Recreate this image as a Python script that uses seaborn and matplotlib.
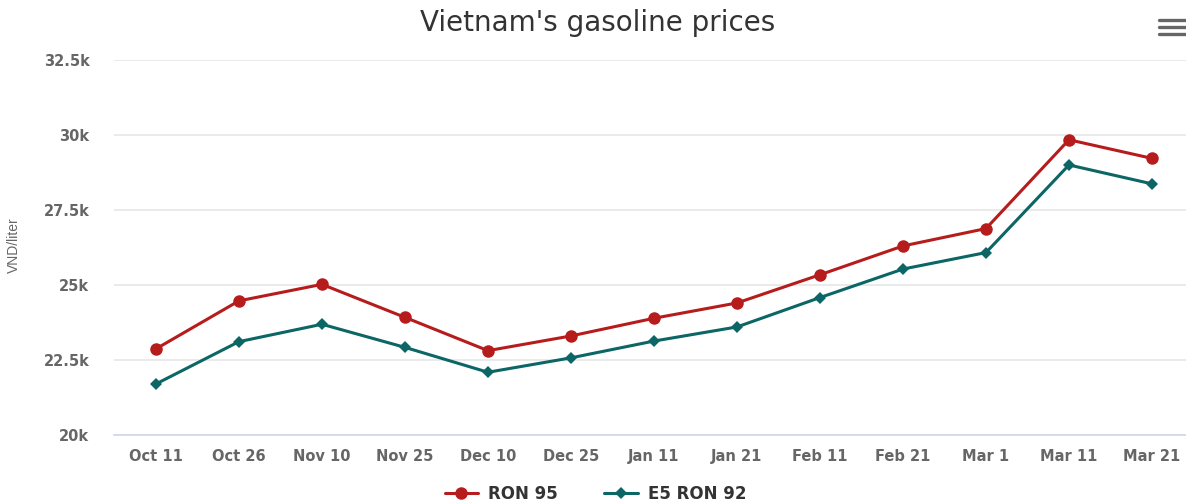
import matplotlib
matplotlib.use("Agg")
import matplotlib.pyplot as plt
import seaborn as sns
import pandas as pd
from matplotlib.ticker import FuncFormatter
from matplotlib.lines import Line2D

dates = ["Oct 11", "Oct 26", "Nov 10", "Nov 25", "Dec 10", "Dec 25", "Jan 11",
         "Jan 21", "Feb 11", "Feb 21", "Mar 1", "Mar 11", "Mar 21"]
ron95 = [22870, 24470, 25020, 23920, 22810, 23300, 23890,
         24400, 25340, 26300, 26880, 29840, 29220]
e5ron92 = [21700, 23110, 23690, 22920, 22090, 22570, 23130,
           23600, 24580, 25530, 26080, 29000, 28370]
series_names = ["RON 95", "E5 RON 92"]
colors = ["#b71c1c", "#0b6665"]
y_ticks = [20000, 22500, 25000, 27500, 30000, 32500]

df = pd.DataFrame({
    "date": dates * 2,
    "price": ron95 + e5ron92,
    "series": [series_names[0]] * len(dates) + [series_names[1]] * len(dates),
})
df["x"] = list(range(len(dates))) * 2

sns.set_theme(style="white")
plt.rcParams["font.family"] = ["DejaVu Sans"]

fig = plt.figure(figsize=(11.86, 5.04), dpi=100)
ax = fig.add_axes([0.0965, 0.137, 0.9098, 0.744])

sns.lineplot(data=df, x="x", y="price", hue="series", style="series",
             markers={"RON 95": "o", "E5 RON 92": "D"},
             dashes=False, palette=dict(zip(series_names, colors)),
             linewidth=2.2, markeredgewidth=0, legend=False, ax=ax,
             sort=False)
for line, ms in zip(ax.get_lines(), [9, 6]):
    line.set_markersize(ms)

ax.set_xlim(-0.5, len(dates) - 0.5)
ax.set_ylim(20000, 32500)
ax.set_yticks(y_ticks)
ax.yaxis.set_major_formatter(FuncFormatter(lambda v, p: f"{v/1000:g}k"))
ax.set_xticks(range(len(dates)))
ax.set_xticklabels(dates)
ax.tick_params(axis="both", length=0, labelsize=10.5, labelcolor="#666666")
ax.tick_params(axis="x", pad=10)
ax.tick_params(axis="y", pad=18)
for lab in ax.get_xticklabels() + ax.get_yticklabels():
    lab.set_fontweight("bold")
ax.grid(axis="y", color="#e6e6e6", linewidth=1.2)
ax.set_axisbelow(True)
for s in ["top", "right", "left"]:
    ax.spines[s].set_visible(False)
ax.spines["bottom"].set_color("#ccd6eb")
ax.spines["bottom"].set_linewidth(1.2)

ax.set_xlabel("")
ax.set_ylabel("VND/liter", fontsize=10, color="#666666",
              family=["Liberation Sans", "DejaVu Sans"])
ax.yaxis.set_label_coords(-0.087, 0.505)

fig.text(0.504, 0.955, "Vietnam's gasoline prices", ha="center", va="center",
         fontsize=20, color="#333333")

# hamburger menu icon
for yy in [0.932, 0.946, 0.960]:
    fig.add_artist(Line2D([0.977, 1.0], [yy, yy], color="#666666",
                          linewidth=2.4, transform=fig.transFigure))

handles = [Line2D([], [], color=c, marker=m, markersize=ms, linewidth=2.2,
                  markeredgewidth=0)
           for c, m, ms in zip(colors, ["o", "D"], [9, 6])]
leg = fig.legend(handles, series_names, loc="center", bbox_to_anchor=(0.502, 0.02),
                 ncol=2, frameon=False, handlelength=2.0, columnspacing=2.8,
                 handletextpad=0.6, prop={"size": 12, "weight": "bold"})
for t in leg.get_texts():
    t.set_color("#333333")

fig.savefig("out.png", dpi=100)
